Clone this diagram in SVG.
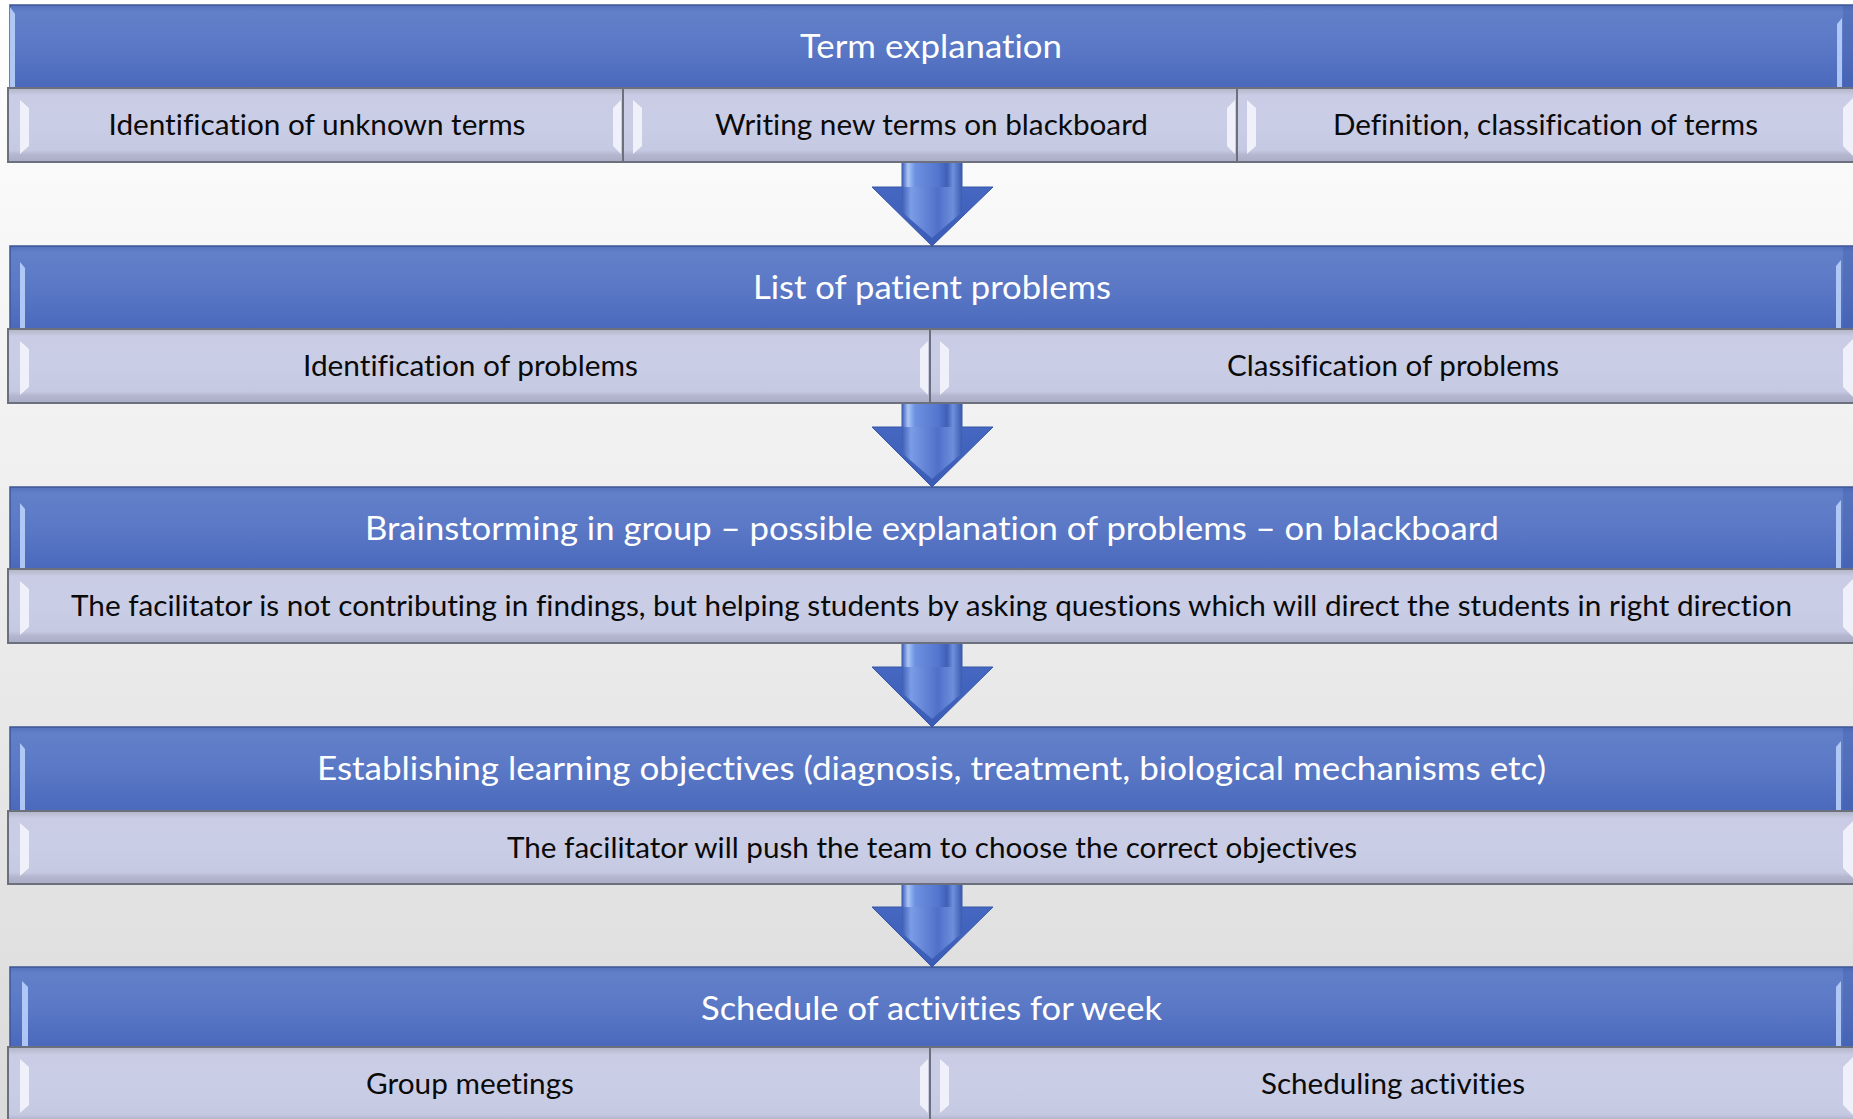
<svg xmlns="http://www.w3.org/2000/svg" width="1853" height="1119" viewBox="0 0 1853 1119">
<style>
.hdr-text{font-family:Lato,"Open Sans","Liberation Sans",sans-serif;font-size:32px;fill:#ffffff;text-anchor:middle;font-variant-ligatures:none}
.cell-text{font-family:Lato,"Open Sans","Liberation Sans",sans-serif;font-size:29px;fill:#0a0a0a;text-anchor:middle;font-variant-ligatures:none}
.hdr{fill:url(#hdrGrad);stroke:#3e5694;stroke-width:1.5}
.cell{fill:url(#cellGrad);stroke:#6c6f7c;stroke-width:2}
.hl{fill:#b9d0fa;opacity:0.9}
.hlshade{fill:#3f5aa6;opacity:0.35}
.cbev{fill:#f3f4fb;opacity:0.9}
.arrow-body{fill:url(#headGrad);stroke:#3556a8;stroke-width:1}
.arrow-shaft{fill:url(#shaftGrad)}
.arrow-inner{fill:url(#innerGrad)}
</style>
<defs>
<linearGradient id="bgGrad" x1="0" y1="0" x2="0" y2="1">
<stop offset="0" stop-color="#ffffff"/>
<stop offset="1" stop-color="#dbdbdb"/>
</linearGradient>
<linearGradient id="hdrGrad" x1="0" y1="0" x2="0" y2="1">
<stop offset="0" stop-color="#5471bd"/>
<stop offset="0.08" stop-color="#6280c9"/>
<stop offset="0.5" stop-color="#5a78c5"/>
<stop offset="1" stop-color="#4a69bc"/>
</linearGradient>
<linearGradient id="cellGrad" x1="0" y1="0" x2="0" y2="1">
<stop offset="0" stop-color="#b2b4c6"/>
<stop offset="0.1" stop-color="#c9cce4"/>
<stop offset="0.5" stop-color="#cacde6"/>
<stop offset="0.84" stop-color="#c6c9e2"/>
<stop offset="0.9" stop-color="#b4b7cf"/>
<stop offset="1" stop-color="#aaadc5"/>
</linearGradient>
<linearGradient id="shaftGrad" x1="0" y1="0" x2="1" y2="0">
<stop offset="0" stop-color="#3d5db2"/>
<stop offset="0.1" stop-color="#a9c5f8"/>
<stop offset="0.22" stop-color="#6d90e0"/>
<stop offset="0.6" stop-color="#5476cf"/>
<stop offset="0.75" stop-color="#3f60b6"/>
<stop offset="0.85" stop-color="#6f90dc"/>
<stop offset="1" stop-color="#3a59ad"/>
</linearGradient>
<linearGradient id="innerGrad" x1="0" y1="0" x2="1" y2="0">
<stop offset="0" stop-color="#3f5fb5"/>
<stop offset="0.15" stop-color="#7b9ce6"/>
<stop offset="0.6" stop-color="#4f70c8"/>
<stop offset="0.85" stop-color="#6d8edb"/>
<stop offset="1" stop-color="#3c5cb0"/>
</linearGradient>
<linearGradient id="headGrad" x1="0" y1="0" x2="0" y2="1">
<stop offset="0" stop-color="#4c6dc6"/>
<stop offset="1" stop-color="#3a5bb6"/>
</linearGradient>
</defs>

<rect x="0" y="0" width="1853" height="1119" fill="url(#bgGrad)"/>

<g id="connectors">
<g id="arrow-1">
<path class="arrow-body" d="M902,160 H962 V187 H993 L932,246 L872,187 H902 Z"/>
<path class="arrow-shaft" d="M902,160 H962 V187 H902 Z"/>
<path class="arrow-inner" d="M902,187 H962 V212 L932,238 L902,212 Z"/>
</g>
<g id="arrow-2">
<path class="arrow-body" d="M902,401 H962 V427 H993 L932,487 L872,427 H902 Z"/>
<path class="arrow-shaft" d="M902,401 H962 V427 H902 Z"/>
<path class="arrow-inner" d="M902,427 H962 V453 L932,479 L902,453 Z"/>
</g>
<g id="arrow-3">
<path class="arrow-body" d="M902,642 H962 V667 H993 L932,727 L872,667 H902 Z"/>
<path class="arrow-shaft" d="M902,642 H962 V667 H902 Z"/>
<path class="arrow-inner" d="M902,667 H962 V693 L932,719 L902,693 Z"/>
</g>
<g id="arrow-4">
<path class="arrow-body" d="M902,882 H962 V907 H993 L932,967 L872,907 H902 Z"/>
<path class="arrow-shaft" d="M902,882 H962 V907 H902 Z"/>
<path class="arrow-inner" d="M902,907 H962 V933 L932,959 L902,933 Z"/>
</g>
</g>

<!-- Row 1 -->
<g id="hdr-term-explanation">
<rect class="hdr" x="10" y="5" width="1850" height="83"/>
<polygon class="hl" points="10,7 15,14 15,87 10,87"/>
<polygon class="hl" points="1837,24 1842,18 1842,87 1837,87"/>
<polygon class="hlshade" points="1843,6 1853,6 1853,88 1843,88"/>
<text class="hdr-text" x="931" y="58" textLength="262" lengthAdjust="spacingAndGlyphs">Term explanation</text>
</g>
<g id="cell-unknown-terms">
<rect class="cell" x="8" y="88" width="615" height="74"/>
<polygon class="cbev" points="20,100 29,108 29,146 20,154"/>
<polygon class="cbev" points="613,108 621,100 621,154 613,146"/>
<text class="cell-text" x="317" y="135" textLength="417" lengthAdjust="spacingAndGlyphs">Identification of unknown terms</text>
</g>
<g id="cell-writing-terms">
<rect class="cell" x="623" y="88" width="614" height="74"/>
<polygon class="cbev" points="633,100 642,108 642,146 633,154"/>
<polygon class="cbev" points="1227,108 1235,100 1235,154 1227,146"/>
<text class="cell-text" x="931.5" y="135" textLength="433" lengthAdjust="spacingAndGlyphs">Writing new terms on blackboard</text>
</g>
<g id="cell-definition-terms">
<rect class="cell" x="1237" y="88" width="620" height="74"/>
<polygon class="cbev" points="1247,100 1256,108 1256,146 1247,154"/>
<polygon class="cbev" points="1843,108 1853,98 1853,156 1843,146"/>
<text class="cell-text" x="1545.5" y="135" textLength="425" lengthAdjust="spacingAndGlyphs">Definition, classification of terms</text>
</g>

<!-- Row 2 -->
<g id="hdr-patient-problems">
<rect class="hdr" x="10" y="246" width="1850" height="83"/>
<polygon class="hl" points="20,262 25,268 25,328 20,328"/>
<polygon class="hl" points="1836,266 1841,260 1841,328 1836,328"/>
<polygon class="hlshade" points="1843,247 1853,247 1853,329 1843,329"/>
<text class="hdr-text" x="932" y="299" textLength="358" lengthAdjust="spacingAndGlyphs">List of patient problems</text>
</g>
<g id="cell-identification-problems">
<rect class="cell" x="8" y="329" width="922" height="74"/>
<polygon class="cbev" points="20,341 29,349 29,387 20,395"/>
<polygon class="cbev" points="920,349 928,341 928,395 920,387"/>
<text class="cell-text" x="470.5" y="376" textLength="335" lengthAdjust="spacingAndGlyphs">Identification of problems</text>
</g>
<g id="cell-classification-problems">
<rect class="cell" x="930" y="329" width="927" height="74"/>
<polygon class="cbev" points="940,341 949,349 949,387 940,395"/>
<polygon class="cbev" points="1843,349 1853,339 1853,397 1843,387"/>
<text class="cell-text" x="1393" y="376" textLength="332" lengthAdjust="spacingAndGlyphs">Classification of problems</text>
</g>

<!-- Row 3 -->
<g id="hdr-brainstorming">
<rect class="hdr" x="10" y="487" width="1850" height="82"/>
<polygon class="hl" points="20,503 25,509 25,568 20,568"/>
<polygon class="hl" points="1836,506 1841,500 1841,568 1836,568"/>
<polygon class="hlshade" points="1843,488 1853,488 1853,569 1843,569"/>
<text class="hdr-text" x="932" y="540" textLength="1134" lengthAdjust="spacingAndGlyphs">Brainstorming in group – possible explanation of problems – on blackboard</text>
</g>
<g id="cell-facilitator-questions">
<rect class="cell" x="8" y="569" width="1849" height="74"/>
<polygon class="cbev" points="20,581 29,589 29,627 20,635"/>
<polygon class="cbev" points="1843,589 1853,579 1853,637 1843,627"/>
<text class="cell-text" x="931.5" y="616" textLength="1721" lengthAdjust="spacingAndGlyphs">The facilitator is not contributing in findings, but helping students by asking questions which will direct the students in right direction</text>
</g>

<!-- Row 4 -->
<g id="hdr-learning-objectives">
<rect class="hdr" x="10" y="727" width="1850" height="84"/>
<polygon class="hl" points="20,743 25,749 25,810 20,810"/>
<polygon class="hl" points="1836,747 1841,741 1841,810 1836,810"/>
<polygon class="hlshade" points="1843,728 1853,728 1853,811 1843,811"/>
<text class="hdr-text" x="931.5" y="780" textLength="1229" lengthAdjust="spacingAndGlyphs">Establishing learning objectives (diagnosis, treatment, biological mechanisms etc)</text>
</g>
<g id="cell-correct-objectives">
<rect class="cell" x="8" y="811" width="1849" height="73"/>
<polygon class="cbev" points="20,823 29,831 29,868 20,876"/>
<polygon class="cbev" points="1843,831 1853,821 1853,878 1843,868"/>
<text class="cell-text" x="932" y="858" textLength="850" lengthAdjust="spacingAndGlyphs">The facilitator will push the team to choose the correct objectives</text>
</g>

<!-- Row 5 -->
<g id="hdr-schedule">
<rect class="hdr" x="10" y="967" width="1850" height="80"/>
<polygon class="hl" points="22,981 28,987 28,1046 22,1046"/>
<polygon class="hl" points="1836,987 1841,981 1841,1046 1836,1046"/>
<polygon class="hlshade" points="1843,968 1853,968 1853,1047 1843,1047"/>
<text class="hdr-text" x="931.5" y="1020" textLength="461" lengthAdjust="spacingAndGlyphs">Schedule of activities for week</text>
</g>
<g id="cell-group-meetings">
<rect class="cell" x="8" y="1047" width="922" height="80"/>
<polygon class="cbev" points="20,1059 29,1067 29,1105 20,1113"/>
<polygon class="cbev" points="920,1067 928,1059 928,1113 920,1105"/>
<text class="cell-text" x="470" y="1094" textLength="208" lengthAdjust="spacingAndGlyphs">Group meetings</text>
</g>
<g id="cell-scheduling-activities">
<rect class="cell" x="930" y="1047" width="927" height="80"/>
<polygon class="cbev" points="940,1059 949,1067 949,1105 940,1113"/>
<polygon class="cbev" points="1843,1067 1853,1057 1853,1115 1843,1105"/>
<text class="cell-text" x="1393" y="1094" textLength="264" lengthAdjust="spacingAndGlyphs">Scheduling activities</text>
</g>
</svg>
